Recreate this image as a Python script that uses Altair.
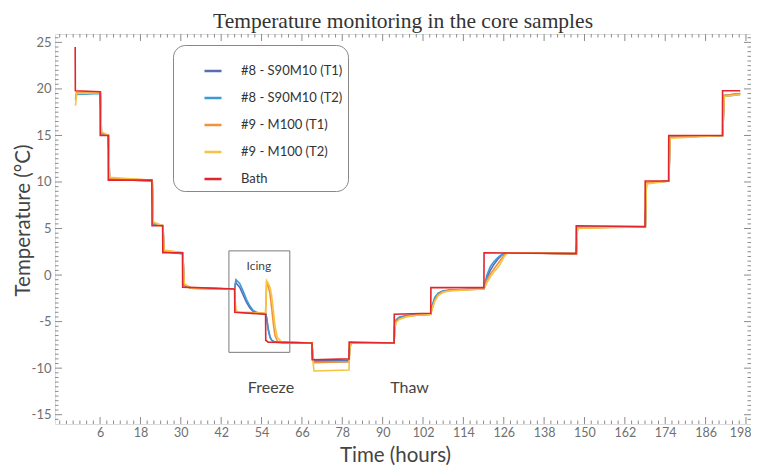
import altair as alt
import pandas as pd

# ---------------- data ----------------
series_names = ["#8 - S90M10 (T1)", "#8 - S90M10 (T2)", "#9 - M100 (T1)", "#9 - M100 (T2)", "Bath"]
series_colors = ["#5a6cb2", "#3d9ad8", "#f2923a", "#f6c343", "#e2252b"]

bath_t = [-1.4, -1.35, 6.0, 6.05, 8.4, 8.45, 21.4, 21.45, 24.6, 24.65, 30.5, 30.55, 46.0, 46.05,
          55.2, 55.25, 56.0, 69.0, 69.05, 80.0, 80.05, 93.4, 93.45, 104.3, 104.35, 120.1, 120.15,
          147.5, 147.55, 168.0, 168.05, 175.0, 175.05, 191.0, 191.05, 196.3]
bath_v = [24.5, 19.8, 19.7, 15.0, 15.0, 10.2, 10.2, 5.3, 5.3, 2.4, 2.4, -1.3, -1.5, -4.0,
          -4.2, -7.0, -7.2, -7.3, -9.1, -9.0, -7.2, -7.3, -4.2, -4.1, -1.35, -1.35, 2.4,
          2.3, 5.3, 5.2, 10.1, 10.1, 15.0, 15.0, 19.8, 19.8]

s8t1_t = [-1.3, -1.0, 6.1, 6.4, 8.5, 8.8, 21.5, 21.8, 24.7, 25.0, 30.6, 31.0, 33.0,
          46.0, 46.3, 47.5, 48.5, 49.5, 50.5, 51.5, 52.5, 55.3, 55.6, 56.0, 56.5, 57.0, 58.0,
          69.0, 69.2, 69.6, 80.0, 80.2, 80.6, 93.4, 93.6, 94.0, 95.0, 97.0, 100.0,
          104.3, 104.6, 105.5, 106.5, 108.0, 110.0, 115.0,
          120.1, 120.4, 121.0, 122.0, 123.0, 124.0, 125.0, 126.0, 127.0,
          147.6, 147.9, 168.1, 168.4, 175.1, 175.4, 191.1, 191.5, 196.3]
s8t1_v = [19.0, 19.5, 19.6, 15.2, 15.0, 10.3, 10.1, 5.5, 5.3, 2.5, 2.3, -1.1, -1.4,
          -1.5, -0.8, -1.3, -2.1, -2.9, -3.5, -3.9, -4.1, -4.2, -4.8, -5.8, -6.6, -7.0, -7.2,
          -7.3, -8.6, -9.2, -9.2, -7.8, -7.3, -7.3, -5.4, -4.9, -4.6, -4.4, -4.3,
          -4.2, -3.5, -2.5, -2.0, -1.75, -1.6, -1.55,
          -1.5, -1.0, -0.3, 0.5, 1.1, 1.6, 2.0, 2.3, 2.4,
          2.3, 5.1, 5.2, 9.9, 10.1, 14.8, 15.0, 19.3, 19.5]

s8t2_t = [-1.3, -1.0, 6.1, 6.4, 8.5, 8.8, 21.5, 21.8, 24.7, 25.0, 30.6, 31.0, 33.0,
          46.0, 46.4, 47.5, 48.5, 49.5, 50.5, 51.5, 52.5, 55.3, 55.6, 56.0, 56.5, 57.0, 58.0,
          69.0, 69.2, 69.6, 80.0, 80.2, 80.6, 93.4, 93.6, 94.0, 95.0, 97.0, 100.0,
          104.3, 104.6, 105.5, 106.5, 108.0, 110.0, 115.0,
          120.1, 120.4, 121.0, 122.0, 123.0, 124.0, 125.0, 126.0, 127.0,
          147.6, 147.9, 168.1, 168.4, 175.1, 175.4, 191.1, 191.5, 196.3]
s8t2_v = [19.2, 19.4, 19.5, 15.2, 15.0, 10.3, 10.1, 5.5, 5.3, 2.5, 2.3, -1.1, -1.4,
          -1.5, -0.5, -0.9, -1.7, -2.6, -3.3, -3.8, -4.0, -4.2, -4.9, -5.9, -6.7, -7.0, -7.2,
          -7.3, -8.7, -9.3, -9.3, -7.8, -7.3, -7.3, -5.3, -4.8, -4.5, -4.35, -4.25,
          -4.2, -3.4, -2.4, -1.95, -1.7, -1.6, -1.55,
          -1.5, -0.9, 0.0, 0.9, 1.4, 1.8, 2.1, 2.3, 2.4,
          2.3, 5.1, 5.2, 9.9, 10.1, 14.8, 15.0, 19.2, 19.4]

s9t1_t = [-1.3, -1.0, 6.1, 6.4, 8.5, 8.8, 21.5, 21.8, 24.7, 25.0, 30.6, 31.0, 33.0,
          46.0, 46.3, 47.0, 55.2, 55.5, 56.0, 56.5, 57.0, 57.5, 58.0, 58.7, 60.0,
          69.0, 69.2, 69.6, 80.0, 80.2, 80.6, 93.4, 93.6, 94.0, 95.0, 97.0, 100.0,
          104.3, 104.6, 105.5, 106.5, 108.0, 110.0, 115.0,
          120.1, 120.4, 121.0, 122.0, 123.0, 124.0, 125.0, 126.0, 127.0,
          147.6, 147.9, 168.1, 168.4, 175.1, 175.4, 191.1, 191.5, 196.3]
s9t1_v = [18.8, 19.6, 19.7, 15.3, 15.0, 10.4, 10.2, 5.6, 5.3, 2.6, 2.4, -1.0, -1.4,
          -1.5, -3.8, -4.0, -4.1, -0.9, -1.2, -2.0, -3.5, -5.2, -6.5, -7.1, -7.3,
          -7.3, -8.7, -9.4, -9.3, -7.8, -7.3, -7.3, -5.6, -5.0, -4.7, -4.45, -4.3,
          -4.2, -3.7, -2.7, -2.1, -1.8, -1.65, -1.55,
          -1.5, -1.2, -0.6, 0.1, 0.6, 1.1, 1.6, 2.1, 2.4,
          2.3, 5.1, 5.2, 9.9, 10.1, 14.8, 15.0, 19.3, 19.5]

s9t2_t = [-1.3, -1.0, 6.1, 6.4, 8.5, 8.8, 21.5, 21.8, 24.7, 25.0, 30.6, 31.0, 33.0,
          46.0, 46.3, 47.0, 55.2, 55.5, 56.0, 56.5, 57.0, 57.5, 58.0, 58.7, 60.0,
          69.0, 69.2, 69.6, 80.0, 80.2, 80.6, 93.4, 93.6, 94.0, 95.0, 97.0, 100.0,
          104.3, 104.6, 105.5, 106.5, 108.0, 110.0, 115.0,
          120.1, 120.4, 121.0, 122.0, 123.0, 124.0, 125.0, 126.0, 127.0,
          147.6, 147.9, 168.1, 168.4, 175.1, 175.4, 191.1, 191.5, 196.3]
s9t2_v = [18.2, 19.5, 19.6, 15.4, 15.0, 10.5, 10.2, 5.7, 5.3, 2.7, 2.4, -0.9, -1.4,
          -1.5, -3.7, -4.0, -4.1, -0.6, -0.9, -1.3, -2.2, -3.8, -5.5, -6.7, -7.2,
          -7.3, -9.0, -10.3, -10.2, -8.0, -7.3, -7.3, -5.7, -5.1, -4.75, -4.5, -4.3,
          -4.2, -3.8, -2.8, -2.2, -1.85, -1.7, -1.6,
          -1.5, -1.3, -0.8, -0.2, 0.3, 0.7, 1.2, 1.9, 2.4,
          2.3, 5.0, 5.2, 9.8, 10.1, 14.7, 15.0, 19.2, 19.4]

# annotations
icing_t = [44.3, 62.4]
icing_v = [2.6, -8.3]
note_text = ["Icing", "Freeze", "Thaw"]
note_t = [53.2, 56.8, 98.0]
note_v = [1.0, -12.1, -12.1]
note_size = [12, 16, 16]

# axes
x_domain = [-7.4, 199.5]
y_domain = [-16.0, 25.9]
x_major = list(range(6, 199, 12))
x_minor = [t for t in range(-6, 199, 2) if t not in x_major]
y_major = list(range(-15, 26, 5))
y_minor = [k * 0.5 for k in range(-31, 52) if (k * 0.5) not in y_major]

W, H = 696, 390
FONT = "Lato"
TICK_C = "#8c8c8c"

# ---------------- build tables ----------------
rows = []
for name, ts, vs in [(series_names[0], s8t1_t, s8t1_v), (series_names[1], s8t2_t, s8t2_v),
                     (series_names[2], s9t1_t, s9t1_v), (series_names[3], s9t2_t, s9t2_v),
                     (series_names[4], bath_t, bath_v)]:
    for i, (t, v) in enumerate(zip(ts, vs)):
        rows.append({"series": name, "t": t, "v": v, "i": i, "z": series_names.index(name)})
df = pd.DataFrame(rows)

box_df = pd.DataFrame({"t": [icing_t[0]], "t2": [icing_t[1]], "v": [icing_v[0]], "v2": [icing_v[1]]})
note_df = pd.DataFrame({"txt": note_text, "t": note_t, "v": note_v, "s": note_size})

xs = alt.Scale(domain=x_domain, nice=False, zero=False)
ys = alt.Scale(domain=y_domain, nice=False, zero=False)

x_axis = alt.Axis(values=x_major, ticks=False, domain=False, grid=False, labelPadding=2,
                  labelOverlap=False, labelFlush=6, labelFlushOffset=5,
                  labelFont=FONT, labelFontSize=12.5, labelColor="#707070",
                  title="Time (hours)", titleFont=FONT, titleFontSize=20.5, titleFontWeight="normal",
                  titleColor="#444", titleBaseline="alphabetic", titleX=340, titleY=37)
y_axis = alt.Axis(values=y_major, ticks=False, domain=False, grid=False, labelPadding=4,
                  labelOverlap=False, labelFlush=False, labelExpr="'' + datum.value",
                  labelFont=FONT, labelFontSize=13, labelColor="#707070",
                  title="Temperature (°C)", titleFont=FONT, titleFontSize=20.5, titleFontWeight="normal",
                  titleColor="#444", titleBaseline="middle", titleX=-32, titleY=186)

X = lambda: alt.X("t:Q", scale=xs, axis=x_axis)
Y = lambda: alt.Y("v:Q", scale=ys, axis=y_axis)

layers = []


def xticks(vals, length):
    d = pd.DataFrame({"t": vals})
    bottom = alt.Chart(d).mark_rule(color=TICK_C, strokeWidth=1).encode(
        x=X(), y=alt.value(H), y2=alt.value(H - length))
    top = alt.Chart(d).mark_rule(color=TICK_C, strokeWidth=1).encode(
        x=X(), y=alt.value(0), y2=alt.value(length))
    return [bottom, top]


def yticks(vals, length):
    d = pd.DataFrame({"v": vals})
    left = alt.Chart(d).mark_rule(color=TICK_C, strokeWidth=1).encode(
        y=Y(), x=alt.value(0), x2=alt.value(length))
    right = alt.Chart(d).mark_rule(color=TICK_C, strokeWidth=1).encode(
        y=Y(), x=alt.value(W), x2=alt.value(W - length))
    return [left, right]


layers += xticks(x_minor, 3.5) + xticks(x_major, 7) + yticks(y_minor, 3.5) + yticks(y_major, 7)

box = alt.Chart(box_df).mark_rect(fillOpacity=0, stroke="#7a7a7a", strokeWidth=1).encode(
    x=X(), x2="t2:Q", y=Y(), y2="v2:Q")

notes = alt.Chart(note_df).mark_text(font=FONT, color="#444").encode(
    x=X(), y=Y(), text="txt:N", size=alt.Size("s:Q", scale=None, legend=None))

lines = alt.Chart(df).mark_line(strokeWidth=1.6, interpolate="linear").encode(
    x=X(), y=Y(),
    color=alt.Color("series:N", scale=alt.Scale(domain=series_names, range=series_colors),
                    legend=alt.Legend(orient="none", legendX=118, legendY=11, title=" ",
                                      titleFontSize=9, titlePadding=2,
                                      fillColor="white", strokeColor="#888", cornerRadius=12,
                                      padding=5, symbolType="stroke", symbolStrokeWidth=2.5,
                                      symbolSize=290, symbolOffset=25, labelOffset=18,
                                      rowPadding=10, labelFont=FONT, labelFontSize=13,
                                      labelColor="#333")),
    order="i:Q",
    detail="z:Q",
)

chart = alt.layer(*layers, box, notes, lines).properties(
    width=W, height=H,
    autosize=alt.AutoSizeParams(type="none"),
    padding={"left": 47, "top": 26, "right": 0, "bottom": 41},
    title=alt.TitleParams("Temperature monitoring in the core samples", font="Liberation Serif",
                          fontSize=21.5, fontWeight="normal", color="#333", offset=1.5,
                          anchor="middle"),
).configure_view(stroke="#9a9a9a", strokeWidth=1).configure(background="white")

chart.save("out.html", embed_options={"renderer": "svg", "actions": False})
